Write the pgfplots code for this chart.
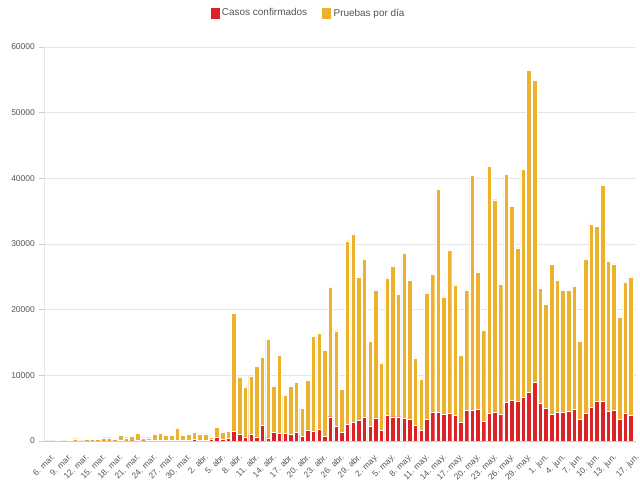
\documentclass[border=0pt]{standalone}
\usepackage{pgfplots}
\pgfplotsset{compat=1.18}
\usepackage{pgfplotstable}
\usepackage{fontspec}
\setmainfont{Liberation Sans}
\definecolor{cred}{HTML}{DC2127}
\definecolor{cyel}{HTML}{ECB22E}
\definecolor{txt}{HTML}{555555}
\definecolor{gridc}{HTML}{E6E6E6}
\definecolor{axc}{HTML}{CCCCCC}
\pgfplotstableread{
x red yel
0 1 149
1 5 145
2 0 0
3 2 148
4 0 0
5 2 348
6 6 144
7 15 285
8 5 295
9 5 295
10 28 472
11 30 470
12 20 280
13 100 800
14 30 470
15 40 710
16 50 1150
17 40 460
18 60 440
19 100 1000
20 150 1050
21 60 840
22 60 840
23 100 1900
24 100 800
25 100 950
26 300 1050
27 150 950
28 150 950
29 200 400
30 600 1500
31 300 1050
32 450 1030
33 1420 17970
34 960 8760
35 610 7630
36 960 8960
37 610 10840
38 2330 10440
39 460 15110
40 1270 7130
41 1120 11960
42 1120 5900
43 960 7440
44 1270 7690
45 760 4230
46 1570 7690
47 1420 14560
48 1730 14710
49 760 13130
50 3700 19760
51 2180 14610
52 1270 6620
53 2490 27990
54 2790 28660
55 3100 21890
56 3550 24190
57 2180 13040
58 3400 19500
59 1570 10340
60 3860 20970
61 3700 22860
62 3700 18590
63 3400 25150
64 3250 21280
65 2330 10340
66 1570 7900
67 3250 19290
68 4310 21030
69 4310 33990
70 4010 17920
71 4160 24950
72 3860 19910
73 2790 10290
74 4620 18380
75 4620 35790
76 4770 20980
77 2940 13960
78 4160 37620
79 4310 32430
80 4010 19910
81 5840 34720
82 6140 29590
83 5990 23420
84 6600 34770
85 7360 49080
86 8880 46030
87 5690 17620
88 4920 15950
89 4010 22960
90 4310 20220
91 4310 18590
92 4470 18430
93 4770 18840
94 3250 11970
95 4160 23580
96 5080 28000
97 5990 26680
98 5990 32890
99 4470 22910
100 4620 22350
101 3250 15630
102 4160 20060
103 3860 21130
}\datatable
\begin{document}
\begin{tikzpicture}
\useasboundingbox (0,0) rectangle (640bp,484bp);
\begin{axis}[
  at={(44bp,43bp)}, anchor=south west,
  width=592bp, height=394bp, scale only axis,
  ybar stacked, bar width=0.8,
  xmin=-0.5, xmax=103.9, ymin=0, ymax=60000,
  ytick={0,10000,...,60000},
  scaled y ticks=false,
  /pgf/number format/.cd, 1000 sep={}, assume math mode=true,
  /pgfplots/.cd,
  xtick={0,3,...,99,103},
  xticklabels={6. mar.,9. mar.,12. mar.,15. mar.,18. mar.,21. mar.,24. mar.,27. mar.,30. mar.,2. abr.,5. abr.,8. abr.,11. abr.,14. abr.,17. abr.,20. abr.,23. abr.,26. abr.,29. abr.,2. may.,5. may.,8. may.,11. may.,14. may.,17. may.,20. may.,23. may.,26. may.,29. may.,1. jun.,4. jun.,7. jun.,10. jun.,13. jun.,17. jun.},
  xticklabel style={rotate=45, anchor=north east, inner sep=0pt, font=\fontsize{8.5}{10}\selectfont, text=txt, yshift=-8bp, xshift=-2bp},
  yticklabel style={font=\fontsize{8.5}{10}\selectfont, text=txt, inner sep=0pt, xshift=-4bp},
  axis x line*=bottom, axis y line*=left,
  x axis line style={draw=axc, line width=0.8bp},
  y axis line style={draw=gridc, line width=0.8bp},
  xtick style={draw=none},
  ytick style={draw=axc, line width=0.6bp},
  tick align=outside, major tick length=5bp,
  ymajorgrids, grid style={draw=gridc, line width=0.7bp},
  legend style={at={(0.446,1.086)}, anchor=center, draw=none, fill=none,
    font=\fontsize{10}{12}\selectfont, text=txt, legend columns=2,
    /tikz/every even column/.append style={column sep=12bp},
    inner sep=0pt},
  legend image code/.code={\fill[#1] (0bp,-6bp) rectangle (10bp,6bp);},
]
\addplot[fill=cred, draw=white, line width=0.4bp] table[x=x, y=red] {\datatable};
\addlegendentry{Casos confirmados}
\addplot[fill=cyel, draw=white, line width=0.4bp] table[x=x, y=yel] {\datatable};
\addlegendentry{Pruebas por día}
\end{axis}
\end{tikzpicture}
\end{document}
